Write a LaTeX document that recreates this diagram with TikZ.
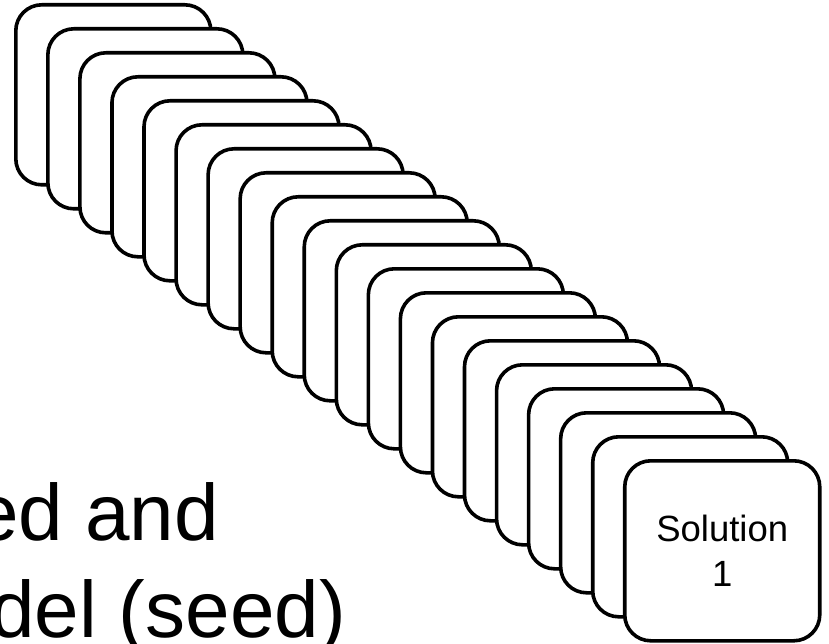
\documentclass[tikz,border=0pt]{standalone}
\usepackage{fontspec}
\setmainfont{Liberation Sans}
\tikzset{
  card/.style={draw=black, fill=white, line width=3.6pt, rounded corners=26pt,
    minimum width=195pt, minimum height=180pt, inner sep=0pt, anchor=north west,
    align=center, font=\fontsize{36.5}{45}\selectfont},
  bigtext/.style={inner sep=0pt, anchor=base east, font=\fontsize{80}{96}\selectfont}
}
\begin{document}
\begin{tikzpicture}[x=1pt, y=-1pt]
\useasboundingbox (0,0) rectangle (829,644);
\foreach \i in {0,...,18} {
  \node[card] (b\i) at ({14+32.05*\i},{3+24*\i}) {};
}
\node[card] (b19) at ({14+32.05*19},{3+24*19}) {Solution\\1};
\node[bigtext] (t1) at (219,540) {ed and};
\node[bigtext] (t2) at (346,637) {del (seed)};
\end{tikzpicture}
\end{document}
